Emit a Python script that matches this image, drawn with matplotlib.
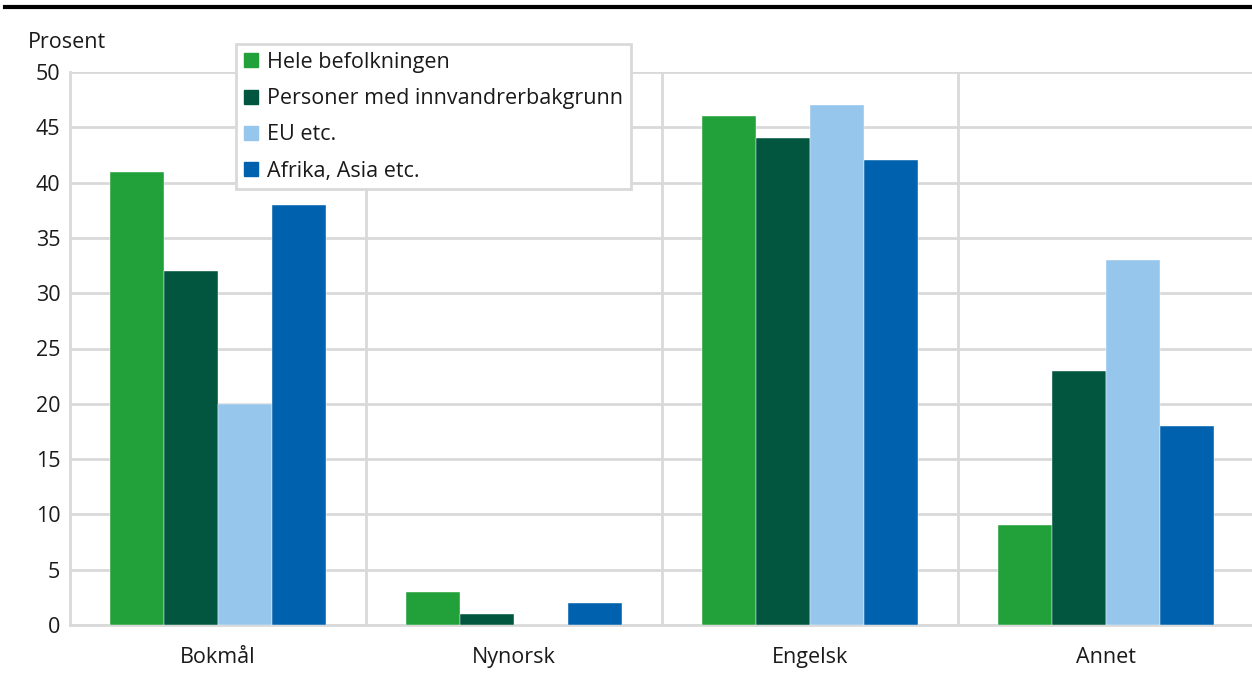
import numpy as np
import matplotlib.pyplot as plt
from matplotlib.lines import Line2D

plt.rcParams["font.family"] = ["Open Sans", "DejaVu Sans"]

GRID_COLOR = "#d9d9d9"
TEXT_COLOR = "#1a1a1a"
FS = 15.5

categories = ["Bokmål", "Nynorsk", "Engelsk", "Annet"]
series_names = ["Hele befolkningen", "Personer med innvandrerbakgrunn", "EU etc.", "Afrika, Asia etc."]
colors = ["#22a03a", "#02553f", "#97c6ec", "#0062ae"]

hele = [41, 3, 46, 9]
innvandrer = [32, 1, 44, 23]
eu = [20, 0, 47, 33]
afrika = [38, 2, 42, 18]
yticks = [0, 5, 10, 15, 20, 25, 30, 35, 40, 45, 50]


def main():
    fig = plt.figure(figsize=(12.52, 6.73), dpi=100)
    ax = fig.add_axes([70 / 1252, 1 - 625 / 673, 1184 / 1252, 553 / 673])

    x = np.arange(len(categories))
    width = 0.73 / 4
    for i, (vals, name, c) in enumerate(zip([hele, innvandrer, eu, afrika], series_names, colors)):
        ax.bar(x + (i - 1.5) * width, vals, width, color=c, label=name, zorder=3,
               edgecolor="white", linewidth=0.3)

    ax.set_xlim(-0.5, len(categories) - 0.5)
    ax.set_ylim(0, 50)
    ax.set_yticks(yticks)
    ax.set_xticks(x)
    ax.set_xticklabels(categories)
    ax.tick_params(axis="both", length=0, labelsize=FS, colors=TEXT_COLOR)
    ax.tick_params(axis="x", pad=16)
    ax.tick_params(axis="y", pad=7)

    ax.grid(axis="y", color=GRID_COLOR, linewidth=2, zorder=0)
    for b in np.arange(0.5, len(categories) - 0.5, 1):
        ax.axvline(b, color=GRID_COLOR, linewidth=2, zorder=0)
    for side in ["top", "right"]:
        ax.spines[side].set_visible(False)
    for side in ["left", "bottom"]:
        ax.spines[side].set_color(GRID_COLOR)
        ax.spines[side].set_linewidth(2)

    handles = [Line2D([], [], marker="s", linestyle="none", markersize=10,
                      markerfacecolor=c, markeredgecolor=c) for c in colors]
    leg = ax.legend(handles, series_names, loc="upper left", bbox_to_anchor=(166 / 1184, 1.05),
                    fontsize=FS, frameon=True, fancybox=False, edgecolor=GRID_COLOR,
                    framealpha=1, handlelength=0.7, handletextpad=0.4, labelspacing=0.71,
                    borderpad=0.35, borderaxespad=0)
    leg.get_frame().set_linewidth(2)
    leg.set_zorder(5)
    for t in leg.get_texts():
        t.set_color(TEXT_COLOR)

    fig.text(28 / 1252, 1 - 42 / 673, "Prosent", fontsize=FS, color=TEXT_COLOR, va="center", ha="left")
    fig.add_artist(Line2D([5 / 1252, 1], [1 - 7 / 673, 1 - 7 / 673], color="black", linewidth=3,
                          transform=fig.transFigure))

    fig.savefig("out.png", dpi=100, facecolor="white")
    plt.close(fig)


if __name__ == "__main__":
    main()
